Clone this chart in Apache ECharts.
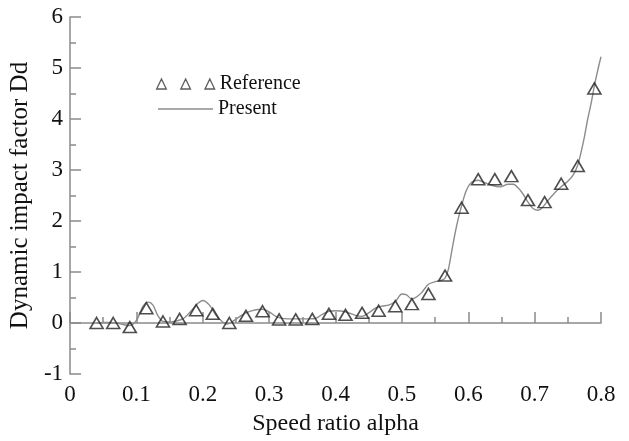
<!DOCTYPE html>
<html>
<head>
<meta charset="utf-8">
<script src="https://cdn.jsdelivr.net/npm/echarts@6/dist/echarts.min.js"></script>
<style>html,body{margin:0;padding:0;background:#fff;}#c{width:629px;height:441px;}</style>
</head>
<body>
<div id="c"></div>
<script>
// Reference (triangles)
const refAlpha = [0.04,0.065,0.09,0.115,0.14,0.165,0.19,0.215,0.24,0.265,0.29,0.315,0.34,0.365,0.39,0.415,0.44,0.465,0.49,0.515,0.54,0.565,0.59,0.615,0.64,0.665,0.69,0.715,0.74,0.765,0.79];
const refDd    = [0.0,0.0,-0.08,0.29,0.03,0.08,0.25,0.18,0.0,0.14,0.23,0.07,0.07,0.08,0.18,0.16,0.2,0.24,0.33,0.37,0.57,0.93,2.26,2.82,2.82,2.88,2.41,2.37,2.73,3.08,4.6];
// Present (line)
const preAlpha = [0.04,0.05,0.06,0.07,0.08,0.09,0.10,0.11,0.118,0.125,0.132,0.14,0.15,0.16,0.17,0.18,0.19,0.20,0.21,0.22,0.23,0.237,0.245,0.255,0.265,0.28,0.29,0.30,0.31,0.32,0.34,0.36,0.37,0.38,0.39,0.40,0.415,0.43,0.44,0.45,0.46,0.47,0.48,0.49,0.50,0.507,0.515,0.523,0.53,0.54,0.55,0.56,0.565,0.57,0.575,0.58,0.585,0.59,0.597,0.605,0.615,0.625,0.635,0.648,0.66,0.668,0.675,0.683,0.69,0.698,0.705,0.712,0.72,0.73,0.74,0.75,0.758,0.765,0.77,0.775,0.78,0.785,0.79,0.795,0.80];
const preDd    = [0.0,0.01,0.01,0.0,-0.03,-0.05,0.05,0.33,0.41,0.35,0.15,0.03,0.02,0.04,0.08,0.2,0.35,0.44,0.35,0.15,0.02,-0.02,0.03,0.12,0.2,0.26,0.27,0.22,0.13,0.09,0.08,0.08,0.09,0.17,0.23,0.24,0.22,0.15,0.13,0.2,0.29,0.33,0.35,0.42,0.57,0.55,0.47,0.52,0.6,0.76,0.81,0.84,0.88,1.05,1.4,1.75,2.05,2.3,2.6,2.76,2.8,2.75,2.7,2.67,2.72,2.72,2.65,2.52,2.37,2.24,2.21,2.27,2.4,2.55,2.67,2.78,2.9,3.1,3.35,3.65,4.0,4.3,4.65,4.95,5.22];
const xTicks = {min:0, max:0.8, interval:0.1};
const yTicks = {min:-1, max:6, interval:1};

const FONT = '"Liberation Serif","Times New Roman",serif';
const AX = '#8a8a8a';
const chart = echarts.init(document.getElementById('c'), null, {renderer:'canvas'});
const triPath = 'path://M0 10 L5 0 L10 10 Z M25 10 L30 0 L35 10 Z M50 10 L55 0 L60 10 Z';
chart.setOption({
  animation:false,
  backgroundColor:'#fff',
  grid:{left:70, right:28, top:17, bottom:67},
  legend:[
    {left:151, top:69, orient:'vertical', itemWidth:58, itemHeight:10, symbolKeepAspect:false,
     textStyle:{fontFamily:FONT, fontSize:20, color:'#111'},
     data:[{name:'Reference', icon:triPath, itemStyle:{color:'rgba(255,255,255,0)', borderColor:'#333', borderWidth:1.3}}]},
    {left:153, top:94, orient:'vertical', itemWidth:55, itemHeight:1.5,
     textStyle:{fontFamily:FONT, fontSize:20, color:'#111'},
     data:[{name:'Present', icon:'rect', itemStyle:{color:'#8c8c8c', borderWidth:0}}]}
  ],
  xAxis:{type:'value', min:xTicks.min, max:xTicks.max, interval:xTicks.interval,
    name:'Speed ratio alpha', nameLocation:'middle', nameGap:38,
    nameTextStyle:{fontFamily:FONT, fontSize:24, color:'#111'},
    axisLine:{show:true, lineStyle:{color:AX, width:1.5}},
    axisTick:{show:true, inside:true, length:11, lineStyle:{color:AX, width:1.5}},
    minorTick:{show:true, splitNumber:2, length:6, lineStyle:{color:AX, width:1.5}},
    splitLine:{show:false},
    axisLabel:{fontFamily:FONT, fontSize:23, color:'#111', margin:9}
  },
  yAxis:{type:'value', min:yTicks.min, max:yTicks.max, interval:yTicks.interval,
    name:'Dynamic impact factor Dd', nameLocation:'middle', nameGap:34,
    nameTextStyle:{fontFamily:FONT, fontSize:25, color:'#111'},
    axisLine:{show:true, lineStyle:{color:AX, width:1.5}},
    axisTick:{show:true, inside:true, length:11, lineStyle:{color:AX, width:1.5}},
    minorTick:{show:true, splitNumber:2, length:6, lineStyle:{color:AX, width:1.5}},
    splitLine:{show:false},
    axisLabel:{fontFamily:FONT, fontSize:23, color:'#111', margin:7}
  },
  series:[
    {name:'Present', type:'line', symbol:'none', smooth:0.3, z:2,
     lineStyle:{color:'#8c8c8c', width:1.4}, itemStyle:{color:'#8c8c8c'},
     data:preAlpha.map((a,i)=>[a,preDd[i]])},
    {name:'Reference', type:'scatter', symbol:'triangle', symbolSize:[13,11], z:3,
     itemStyle:{color:'rgba(255,255,255,0)', borderColor:'#222', borderWidth:1.6},
     data:refAlpha.map((a,i)=>[a,refDd[i]])}
  ]
});
</script>
</body>
</html>
